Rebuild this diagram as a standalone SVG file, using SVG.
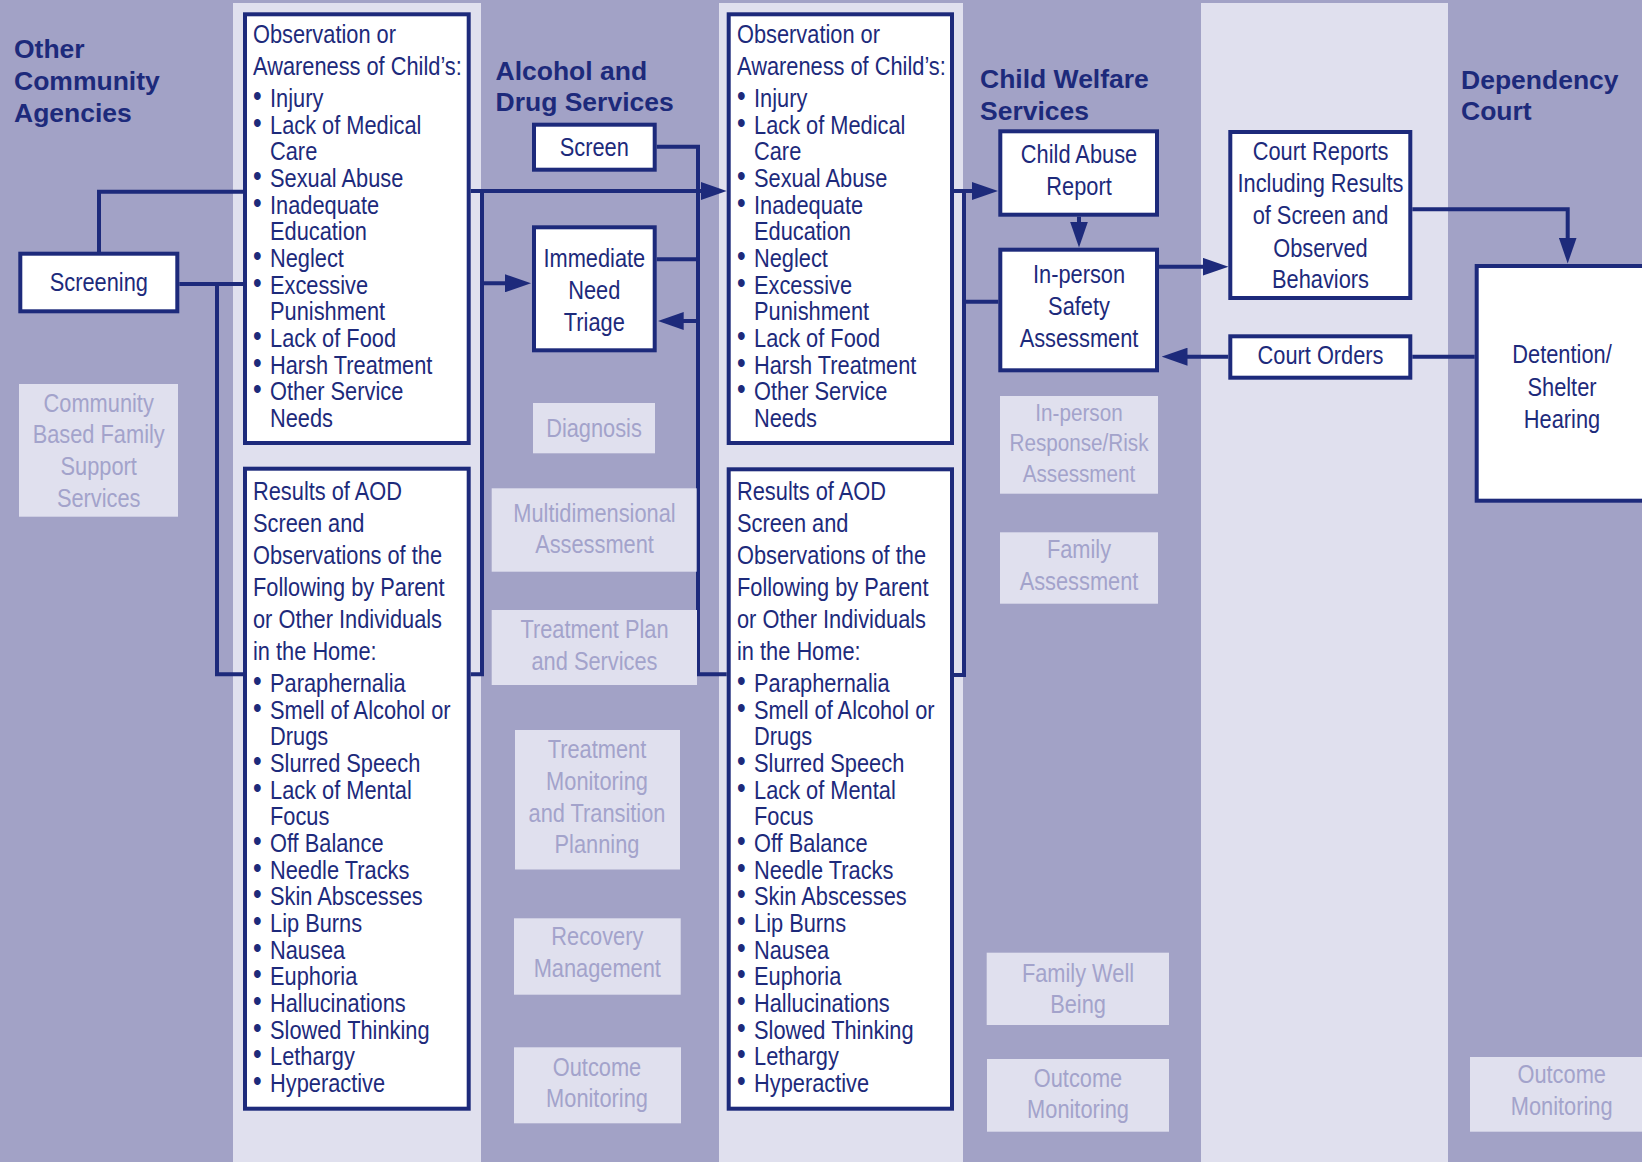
<svg xmlns="http://www.w3.org/2000/svg" width="1642" height="1162" viewBox="0 0 1642 1162">
<style>
.bg{fill:#a2a2c6}
.col{fill:#e0e0ee}
.box{fill:#ffffff;stroke:#1d2a7b;stroke-width:4}
.fade{fill:#e0e0ee}
.t{font-family:"Liberation Sans",Arial,sans-serif;font-size:25.5px;fill:#1d2a7b}
.f{fill:#a3a3cb}
.s{font-size:24.2px}
.b{font-size:29px;baseline-shift:1.2px}
.h{font-family:"Liberation Sans",Arial,sans-serif;font-size:26.5px;font-weight:bold;fill:#1d2a7b}
.c{fill:none;stroke:#1d2a7b;stroke-width:4;stroke-linejoin:miter}
</style>
<defs>
<marker id="ah" viewBox="0 0 26 18" refX="18" refY="9" markerWidth="26" markerHeight="18" markerUnits="userSpaceOnUse" orient="auto">
<path d="M0,0 L26,9 L0,18 Z" fill="#1d2a7b"/>
</marker>
</defs>

<rect class="bg" x="0" y="0" width="1642" height="1162"/>
<rect class="col" x="233" y="3" width="248" height="1159"/>
<rect class="col" x="719" y="3" width="244" height="1159"/>
<rect class="col" x="1201" y="3" width="247" height="1159"/>

<g id="headers">
<text class="h"><tspan x="14" y="58">Other</tspan><tspan x="14" y="90">Community</tspan><tspan x="14" y="121.5">Agencies</tspan></text>
<text class="h"><tspan x="495.5" y="79.5">Alcohol and</tspan><tspan x="495.5" y="111">Drug Services</tspan></text>
<text class="h"><tspan x="980" y="88.3">Child Welfare</tspan><tspan x="980" y="119.5">Services</tspan></text>
<text class="h"><tspan x="1461" y="88.5">Dependency</tspan><tspan x="1461" y="119.5">Court</tspan></text>
</g>

<g id="connectors">
<path class="c" d="M99 253.7 V191.7 H243"/>
<path class="c" d="M179.3 284 H243"/>
<path class="c" d="M217 284 V674.3 H243"/>
<path class="c" d="M482 191 V674.3 H470.7"/>
<path class="c" d="M656.7 146.7 H698 V674.3 H726.7"/>
<path class="c" d="M656.7 259.3 H698"/>
<path class="c" d="M964 191 V675 H954"/>
<path class="c" d="M964 301.7 H998.3"/>
<path class="c" d="M1412.3 356.7 H1474.7"/>
<path class="c" d="M470.7 191 H718.7" marker-end="url(#ah)"/>
<path class="c" d="M482 283.3 H523" marker-end="url(#ah)"/>
<path class="c" d="M698 321 H665.7" marker-end="url(#ah)"/>
<path class="c" d="M954 191 H990" marker-end="url(#ah)"/>
<path class="c" d="M1079 216.7 V239.5" marker-end="url(#ah)"/>
<path class="c" d="M1159 266.7 H1220.5" marker-end="url(#ah)"/>
<path class="c" d="M1412.3 209.3 H1567.7 V255.5" marker-end="url(#ah)"/>
<path class="c" d="M1228.3 356.7 H1169.5" marker-end="url(#ah)"/>
</g>

<g id="screening">
<rect class="box" x="20.3" y="253.7" width="157" height="57.6"/>
<text class="t" text-anchor="middle" transform="matrix(0.855 0 0 1 98.8 0)"><tspan x="0" y="291">Screening</tspan></text>
</g>

<g id="community-support">
<rect class="fade" x="19" y="384" width="159" height="132.7"/>
<text class="t f" text-anchor="middle" transform="matrix(0.855 0 0 1 98.7 0)"><tspan x="0" y="411.7">Community</tspan><tspan x="0" y="443.3">Based Family</tspan><tspan x="0" y="475">Support</tspan><tspan x="0" y="506.7">Services</tspan></text>
</g>

<g id="obs-1">
<rect class="box" x="245" y="14.3" width="223.7" height="428.7"/>
<text class="t" transform="matrix(0.855 0 0 1 253 0)">
<tspan x="0" y="43.3">Observation or</tspan>
<tspan x="0" y="75">Awareness of Child’s:</tspan>
<tspan class="b" x="0" y="107">•</tspan><tspan x="19.9" y="107">Injury</tspan>
<tspan class="b" x="0" y="133.7">•</tspan><tspan x="19.9" y="133.7">Lack of Medical</tspan>
<tspan x="19.9" y="160.3">Care</tspan>
<tspan class="b" x="0" y="187">•</tspan><tspan x="19.9" y="187">Sexual Abuse</tspan>
<tspan class="b" x="0" y="213.7">•</tspan><tspan x="19.9" y="213.7">Inadequate</tspan>
<tspan x="19.9" y="240.3">Education</tspan>
<tspan class="b" x="0" y="267">•</tspan><tspan x="19.9" y="267">Neglect</tspan>
<tspan class="b" x="0" y="293.7">•</tspan><tspan x="19.9" y="293.7">Excessive</tspan>
<tspan x="19.9" y="320.3">Punishment</tspan>
<tspan class="b" x="0" y="347">•</tspan><tspan x="19.9" y="347">Lack of Food</tspan>
<tspan class="b" x="0" y="373.7">•</tspan><tspan x="19.9" y="373.7">Harsh Treatment</tspan>
<tspan class="b" x="0" y="400.3">•</tspan><tspan x="19.9" y="400.3">Other Service</tspan>
<tspan x="19.9" y="427">Needs</tspan>
</text>
</g>

<g id="aod-1">
<rect class="box" x="245" y="468.7" width="223.7" height="640"/>
<text class="t" transform="matrix(0.855 0 0 1 253 0)">
<tspan x="0" y="500">Results of AOD</tspan>
<tspan x="0" y="532.3">Screen and</tspan>
<tspan x="0" y="564.3">Observations of the</tspan>
<tspan x="0" y="596">Following by Parent</tspan>
<tspan x="0" y="628">or Other Individuals</tspan>
<tspan x="0" y="660">in the Home:</tspan>
<tspan class="b" x="0" y="692">•</tspan><tspan x="19.9" y="692">Paraphernalia</tspan>
<tspan class="b" x="0" y="718.7">•</tspan><tspan x="19.9" y="718.7">Smell of Alcohol or</tspan>
<tspan x="19.9" y="745.3">Drugs</tspan>
<tspan class="b" x="0" y="772">•</tspan><tspan x="19.9" y="772">Slurred Speech</tspan>
<tspan class="b" x="0" y="798.7">•</tspan><tspan x="19.9" y="798.7">Lack of Mental</tspan>
<tspan x="19.9" y="825.3">Focus</tspan>
<tspan class="b" x="0" y="852">•</tspan><tspan x="19.9" y="852">Off Balance</tspan>
<tspan class="b" x="0" y="878.7">•</tspan><tspan x="19.9" y="878.7">Needle Tracks</tspan>
<tspan class="b" x="0" y="905.3">•</tspan><tspan x="19.9" y="905.3">Skin Abscesses</tspan>
<tspan class="b" x="0" y="932">•</tspan><tspan x="19.9" y="932">Lip Burns</tspan>
<tspan class="b" x="0" y="958.7">•</tspan><tspan x="19.9" y="958.7">Nausea</tspan>
<tspan class="b" x="0" y="985.3">•</tspan><tspan x="19.9" y="985.3">Euphoria</tspan>
<tspan class="b" x="0" y="1012">•</tspan><tspan x="19.9" y="1012">Hallucinations</tspan>
<tspan class="b" x="0" y="1038.7">•</tspan><tspan x="19.9" y="1038.7">Slowed Thinking</tspan>
<tspan class="b" x="0" y="1065.3">•</tspan><tspan x="19.9" y="1065.3">Lethargy</tspan>
<tspan class="b" x="0" y="1092">•</tspan><tspan x="19.9" y="1092">Hyperactive</tspan>
</text>
</g>

<g id="screen">
<rect class="box" x="534" y="124.7" width="120.7" height="45"/>
<text class="t" text-anchor="middle" transform="matrix(0.855 0 0 1 594.3 0)"><tspan x="0" y="156">Screen</tspan></text>
</g>

<g id="triage">
<rect class="box" x="534" y="227.3" width="120.7" height="123"/>
<text class="t" text-anchor="middle" transform="matrix(0.855 0 0 1 594.3 0)"><tspan x="0" y="267">Immediate</tspan><tspan x="0" y="299">Need</tspan><tspan x="0" y="331">Triage</tspan></text>
</g>

<g id="diagnosis">
<rect class="fade" x="533" y="403" width="122" height="50.3"/>
<text class="t f" text-anchor="middle" transform="matrix(0.855 0 0 1 594 0)"><tspan x="0" y="436.7">Diagnosis</tspan></text>
</g>

<g id="multidimensional">
<rect class="fade" x="491.7" y="488.3" width="205" height="83.4"/>
<text class="t f" text-anchor="middle" transform="matrix(0.855 0 0 1 594.5 0)"><tspan x="0" y="521.7">Multidimensional</tspan><tspan x="0" y="553.3">Assessment</tspan></text>
</g>

<g id="treatment-plan">
<rect class="fade" x="491.7" y="610" width="205.3" height="75"/>
<text class="t f" text-anchor="middle" transform="matrix(0.855 0 0 1 594.5 0)"><tspan x="0" y="638.3">Treatment Plan</tspan><tspan x="0" y="670">and Services</tspan></text>
</g>

<g id="treatment-monitoring">
<rect class="fade" x="515" y="730" width="165" height="139.5"/>
<text class="t f" text-anchor="middle" transform="matrix(0.855 0 0 1 597 0)"><tspan x="0" y="758.3">Treatment</tspan><tspan x="0" y="790">Monitoring</tspan><tspan x="0" y="821.7">and Transition</tspan><tspan x="0" y="853.3">Planning</tspan></text>
</g>

<g id="recovery">
<rect class="fade" x="514" y="918.3" width="166.7" height="76.4"/>
<text class="t f" text-anchor="middle" transform="matrix(0.855 0 0 1 597.3 0)"><tspan x="0" y="945">Recovery</tspan><tspan x="0" y="976.7">Management</tspan></text>
</g>

<g id="outcome-ads">
<rect class="fade" x="514" y="1047.3" width="167" height="76"/>
<text class="t f" text-anchor="middle" transform="matrix(0.855 0 0 1 597 0)"><tspan x="0" y="1075.7">Outcome</tspan><tspan x="0" y="1107.5">Monitoring</tspan></text>
</g>

<g id="obs-2">
<rect class="box" x="728.7" y="14.3" width="223.3" height="428.7"/>
<text class="t" transform="matrix(0.855 0 0 1 737 0)">
<tspan x="0" y="43.3">Observation or</tspan>
<tspan x="0" y="75">Awareness of Child’s:</tspan>
<tspan class="b" x="0" y="107">•</tspan><tspan x="19.9" y="107">Injury</tspan>
<tspan class="b" x="0" y="133.7">•</tspan><tspan x="19.9" y="133.7">Lack of Medical</tspan>
<tspan x="19.9" y="160.3">Care</tspan>
<tspan class="b" x="0" y="187">•</tspan><tspan x="19.9" y="187">Sexual Abuse</tspan>
<tspan class="b" x="0" y="213.7">•</tspan><tspan x="19.9" y="213.7">Inadequate</tspan>
<tspan x="19.9" y="240.3">Education</tspan>
<tspan class="b" x="0" y="267">•</tspan><tspan x="19.9" y="267">Neglect</tspan>
<tspan class="b" x="0" y="293.7">•</tspan><tspan x="19.9" y="293.7">Excessive</tspan>
<tspan x="19.9" y="320.3">Punishment</tspan>
<tspan class="b" x="0" y="347">•</tspan><tspan x="19.9" y="347">Lack of Food</tspan>
<tspan class="b" x="0" y="373.7">•</tspan><tspan x="19.9" y="373.7">Harsh Treatment</tspan>
<tspan class="b" x="0" y="400.3">•</tspan><tspan x="19.9" y="400.3">Other Service</tspan>
<tspan x="19.9" y="427">Needs</tspan>
</text>
</g>

<g id="aod-2">
<rect class="box" x="728.7" y="469.3" width="223.3" height="639.4"/>
<text class="t" transform="matrix(0.855 0 0 1 737 0)">
<tspan x="0" y="500">Results of AOD</tspan>
<tspan x="0" y="532.3">Screen and</tspan>
<tspan x="0" y="564.3">Observations of the</tspan>
<tspan x="0" y="596">Following by Parent</tspan>
<tspan x="0" y="628">or Other Individuals</tspan>
<tspan x="0" y="660">in the Home:</tspan>
<tspan class="b" x="0" y="692">•</tspan><tspan x="19.9" y="692">Paraphernalia</tspan>
<tspan class="b" x="0" y="718.7">•</tspan><tspan x="19.9" y="718.7">Smell of Alcohol or</tspan>
<tspan x="19.9" y="745.3">Drugs</tspan>
<tspan class="b" x="0" y="772">•</tspan><tspan x="19.9" y="772">Slurred Speech</tspan>
<tspan class="b" x="0" y="798.7">•</tspan><tspan x="19.9" y="798.7">Lack of Mental</tspan>
<tspan x="19.9" y="825.3">Focus</tspan>
<tspan class="b" x="0" y="852">•</tspan><tspan x="19.9" y="852">Off Balance</tspan>
<tspan class="b" x="0" y="878.7">•</tspan><tspan x="19.9" y="878.7">Needle Tracks</tspan>
<tspan class="b" x="0" y="905.3">•</tspan><tspan x="19.9" y="905.3">Skin Abscesses</tspan>
<tspan class="b" x="0" y="932">•</tspan><tspan x="19.9" y="932">Lip Burns</tspan>
<tspan class="b" x="0" y="958.7">•</tspan><tspan x="19.9" y="958.7">Nausea</tspan>
<tspan class="b" x="0" y="985.3">•</tspan><tspan x="19.9" y="985.3">Euphoria</tspan>
<tspan class="b" x="0" y="1012">•</tspan><tspan x="19.9" y="1012">Hallucinations</tspan>
<tspan class="b" x="0" y="1038.7">•</tspan><tspan x="19.9" y="1038.7">Slowed Thinking</tspan>
<tspan class="b" x="0" y="1065.3">•</tspan><tspan x="19.9" y="1065.3">Lethargy</tspan>
<tspan class="b" x="0" y="1092">•</tspan><tspan x="19.9" y="1092">Hyperactive</tspan>
</text>
</g>

<g id="child-abuse-report">
<rect class="box" x="1000.3" y="131.3" width="156.7" height="83.4"/>
<text class="t" text-anchor="middle" transform="matrix(0.855 0 0 1 1079 0)"><tspan x="0" y="163.3">Child Abuse</tspan><tspan x="0" y="195">Report</tspan></text>
</g>

<g id="safety-assessment">
<rect class="box" x="1000.3" y="249.7" width="156.7" height="120.6"/>
<text class="t" text-anchor="middle" transform="matrix(0.855 0 0 1 1079 0)"><tspan x="0" y="283.3">In-person</tspan><tspan x="0" y="315">Safety</tspan><tspan x="0" y="346.7">Assessment</tspan></text>
</g>

<g id="risk-assessment">
<rect class="fade" x="1000" y="396" width="158" height="97.7"/>
<text class="t f s" text-anchor="middle" transform="matrix(0.855 0 0 1 1079 0)"><tspan x="0" y="420.7">In-person</tspan><tspan x="0" y="451">Response/Risk</tspan><tspan x="0" y="481.7">Assessment</tspan></text>
</g>

<g id="family-assessment">
<rect class="fade" x="1000" y="532.3" width="158" height="71.4"/>
<text class="t f" text-anchor="middle" transform="matrix(0.855 0 0 1 1079 0)"><tspan x="0" y="558.3">Family</tspan><tspan x="0" y="590">Assessment</tspan></text>
</g>

<g id="family-well-being">
<rect class="fade" x="986.7" y="952.7" width="182.3" height="72.3"/>
<text class="t f" text-anchor="middle" transform="matrix(0.855 0 0 1 1078 0)"><tspan x="0" y="981.7">Family Well</tspan><tspan x="0" y="1013.3">Being</tspan></text>
</g>

<g id="outcome-cws">
<rect class="fade" x="987" y="1059" width="182" height="72.7"/>
<text class="t f" text-anchor="middle" transform="matrix(0.855 0 0 1 1078 0)"><tspan x="0" y="1086.7">Outcome</tspan><tspan x="0" y="1118.3">Monitoring</tspan></text>
</g>

<g id="court-reports">
<rect class="box" x="1230.3" y="132" width="180" height="166"/>
<text class="t" text-anchor="middle" transform="matrix(0.855 0 0 1 1320.5 0)"><tspan x="0" y="160">Court Reports</tspan><tspan x="0" y="192.3">Including Results</tspan><tspan x="0" y="224.3">of Screen and</tspan><tspan x="0" y="256.7">Observed</tspan><tspan x="0" y="288.3">Behaviors</tspan></text>
</g>

<g id="court-orders">
<rect class="box" x="1230.3" y="336.3" width="180" height="41.4"/>
<text class="t" text-anchor="middle" transform="matrix(0.855 0 0 1 1320.5 0)"><tspan x="0" y="364.3">Court Orders</tspan></text>
</g>

<g id="detention-hearing">
<rect class="box" x="1476.7" y="266" width="220" height="234.7"/>
<text class="t" text-anchor="middle" transform="matrix(0.855 0 0 1 1562 0)"><tspan x="0" y="363.3">Detention/</tspan><tspan x="0" y="395.7">Shelter</tspan><tspan x="0" y="427.7">Hearing</tspan></text>
</g>

<g id="outcome-court">
<rect class="fade" x="1470" y="1057" width="200" height="74.7"/>
<text class="t f" text-anchor="middle" transform="matrix(0.855 0 0 1 1561.7 0)"><tspan x="0" y="1083.3">Outcome</tspan><tspan x="0" y="1115">Monitoring</tspan></text>
</g>
</svg>
